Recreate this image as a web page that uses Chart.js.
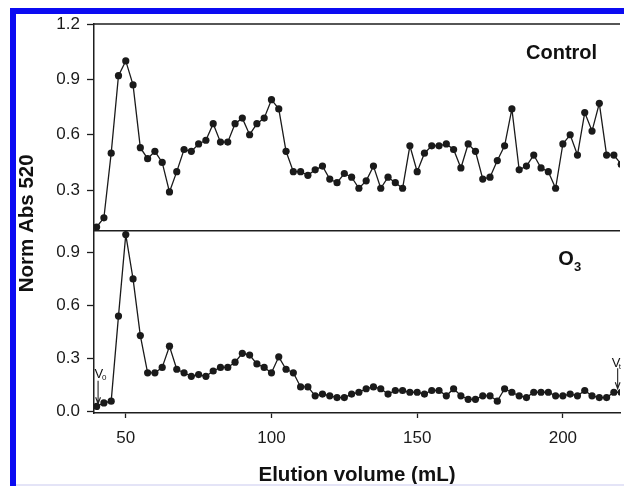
<!DOCTYPE html>
<html>
<head>
<meta charset="utf-8">
<script src="https://cdn.jsdelivr.net/npm/chart.js@4.4.1/dist/chart.umd.min.js"></script>
<style>
  html, body { margin: 0; padding: 0; background: #fff; }
  #wrap { position: relative; width: 624px; height: 486px; overflow: hidden; }
  #frame {
    position: absolute; left: 10px; top: 8px; width: 700px; height: 600px;
    border-top: 6px solid #0b0bf2; border-left: 6px solid #0b0bf2;
    pointer-events: none;
  }
  #edge { position: absolute; left: 16px; top: 484px; width: 620px; height: 2px; background: #e4e4f7; }
</style>
</head>
<body>
<div id="wrap">
  <canvas id="elution" width="624" height="486"></canvas>
  <div id="frame"></div>
  <div id="edge"></div>
</div>
<script>
// fraction volumes (mL)
const volumes = [
  40, 42.5, 45, 47.5, 50, 52.5, 55, 57.5, 60, 62.5,
  65, 67.5, 70, 72.5, 75, 77.5, 80, 82.5, 85, 87.5,
  90, 92.5, 95, 97.5, 100, 102.5, 105, 107.5, 110, 112.5,
  115, 117.5, 120, 122.5, 125, 127.5, 130, 132.5, 135, 137.5,
  140, 142.5, 145, 147.5, 150, 152.5, 155, 157.5, 160, 162.5,
  165, 167.5, 170, 172.5, 175, 177.5, 180, 182.5, 185, 187.5,
  190, 192.5, 195, 197.5, 200, 202.5, 205, 207.5, 210, 212.5,
  215, 217.5, 220
]

// normalised absorbance at 520 nm
const controlAbs = [
  0.10, 0.15, 0.50, 0.92, 1.00, 0.87, 0.53, 0.47, 0.51, 0.45,
  0.29, 0.40, 0.52, 0.51, 0.55, 0.57, 0.66, 0.56, 0.56, 0.66,
  0.69, 0.60, 0.66, 0.69, 0.79, 0.74, 0.51, 0.40, 0.40, 0.38,
  0.41, 0.43, 0.36, 0.34, 0.39, 0.37, 0.31, 0.35, 0.43, 0.31,
  0.37, 0.34, 0.31, 0.54, 0.40, 0.50, 0.54, 0.54, 0.55, 0.52,
  0.42, 0.55, 0.51, 0.36, 0.37, 0.46, 0.54, 0.74, 0.41, 0.43,
  0.49, 0.42, 0.40, 0.31, 0.55, 0.60, 0.49, 0.72, 0.62, 0.77,
  0.49, 0.49, 0.44
]

const ozoneAbs = [
  0.03, 0.05, 0.06, 0.54, 1.00, 0.75, 0.43, 0.22, 0.22, 0.25,
  0.37, 0.24, 0.22, 0.20, 0.21, 0.20, 0.23, 0.25, 0.25, 0.28,
  0.33, 0.32, 0.27, 0.25, 0.22, 0.31, 0.24, 0.22, 0.14, 0.14,
  0.09, 0.10, 0.09, 0.08, 0.08, 0.10, 0.11, 0.13, 0.14, 0.13,
  0.10, 0.12, 0.12, 0.11, 0.11, 0.10, 0.12, 0.12, 0.09, 0.13,
  0.09, 0.07, 0.07, 0.09, 0.09, 0.06, 0.13, 0.11, 0.09, 0.08,
  0.11, 0.11, 0.11, 0.09, 0.09, 0.10, 0.09, 0.12, 0.09, 0.08,
  0.08, 0.11, 0.11
]

const xTicks = [50, 100, 150, 200]
const topTicks = [0.3, 0.6, 0.9, 1.2]
const bottomTicks = [0.0, 0.3, 0.6, 0.9]

const ink = '#1e1e1e'
const family = "'Liberation Sans', Arial, Helvetica, sans-serif"

function points(values) {
  return values.map((v, i) => ({ x: volumes[i], y: v }))
}

function yAxis(min, max, weight, tickList) {
  return {
    type: 'linear',
    position: 'left',
    stack: 'abs',
    stackWeight: weight,
    min: min,
    max: max,
    afterBuildTicks: (s) => { s.ticks = tickList.map((v) => ({ value: v })) },
    afterFit: (s) => {
      s.width = 94
      s.paddingTop = 0
      s.paddingBottom = 0
    },
    border: { color: ink, width: 1.5 },
    grid: { drawOnChartArea: false, tickLength: 7, color: ink, tickWidth: 1.3 },
    ticks: {
      font: { family, size: 17 },
      color: '#1a1a1a',
      padding: 7,
      callback: (v) => v.toFixed(1)
    }
  }
}

// frame lines of the two panels + text labels
const panelDecor = {
  id: 'panelDecor',
  beforeDatasetsDraw(chart) {
    const { ctx, chartArea, scales } = chart
    ctx.save()
    ctx.strokeStyle = ink
    ctx.lineWidth = 1.5
    ;[scales.yTop.top, scales.yBot.top].forEach((y) => {
      ctx.beginPath()
      ctx.moveTo(chartArea.left, y)
      ctx.lineTo(chartArea.right, y)
      ctx.stroke()
    })
    ctx.restore()
  },
  afterDatasetsDraw(chart) {
    const { ctx, scales } = chart
    const x = scales.x
    const yb = scales.yBot
    ctx.save()
    ctx.fillStyle = '#111'
    ctx.textBaseline = 'alphabetic'

    // y title
    ctx.save()
    ctx.translate(33.3, 223.3)
    ctx.rotate(-Math.PI / 2)
    ctx.textAlign = 'center'
    ctx.font = 'bold 20.5px ' + family
    ctx.fillText('Norm Abs 520', 0, 0)
    ctx.restore()

    // panel names
    ctx.textAlign = 'left'
    ctx.font = 'bold 20px ' + family
    ctx.fillText('Control', 526, 59)
    ctx.fillText('O', 558.3, 265)
    ctx.font = 'bold 13px ' + family
    ctx.fillText('3', 574, 271)

    // V0 / Vt markers
    const arrow = (px, y0, y1) => {
      ctx.strokeStyle = '#222'
      ctx.lineWidth = 1.1
      ctx.beginPath()
      ctx.moveTo(px, y0)
      ctx.lineTo(px, y1)
      ctx.moveTo(px - 2.4, y1 - 6.5)
      ctx.lineTo(px, y1)
      ctx.lineTo(px + 2.4, y1 - 6.5)
      ctx.stroke()
    }
    const v0 = x.getPixelForValue(40.5)
    arrow(v0, yb.getPixelForValue(0.175), yb.getPixelForValue(0.045))
    ctx.font = '13px ' + family
    ctx.fillText('V', v0 - 3.5, 378)
    ctx.font = '8px ' + family
    ctx.fillText('0', v0 + 3.8, 379.5)

    const vt = x.getPixelForValue(218.8)
    arrow(vt, yb.getPixelForValue(0.245), yb.getPixelForValue(0.13))
    ctx.font = '13px ' + family
    ctx.fillText('V', vt - 6, 367)
    ctx.font = '8px ' + family
    ctx.fillText('t', vt + 1.2, 368.5)
    ctx.restore()
  }
}

const lineStyle = {
  borderColor: '#1a1a1a',
  borderWidth: 1.3,
  pointRadius: 3.6,
  pointBorderWidth: 0,
  pointBackgroundColor: '#1a1a1a',
  tension: 0
}

new Chart(document.getElementById('elution'), {
  type: 'line',
  data: {
    datasets: [
      { label: 'Control', data: points(controlAbs), yAxisID: 'yTop', ...lineStyle },
      { label: 'O3', data: points(ozoneAbs), yAxisID: 'yBot', ...lineStyle }
    ]
  },
  options: {
    responsive: false,
    devicePixelRatio: 1,
    animation: false,
    events: [],
    layout: { padding: { top: 24, left: 0, right: 0, bottom: 0 } },
    scales: {
      x: {
        type: 'linear',
        position: 'bottom',
        min: 39.1,
        max: 219.6,
        afterBuildTicks: (s) => { s.ticks = xTicks.map((v) => ({ value: v })) },
        afterFit: (s) => {
          s.height = 73
          s.paddingLeft = 0
          s.paddingRight = 0
        },
        border: { color: ink, width: 1.5 },
        grid: { drawOnChartArea: false, tickLength: 5, color: ink, tickWidth: 1.3 },
        ticks: {
          font: { family, size: 17 },
          color: '#1a1a1a',
          padding: 10,
          autoSkip: false,
          maxRotation: 0,
          callback: (v) => String(v)
        },
        title: {
          display: true,
          text: 'Elution volume (mL)',
          color: '#111',
          font: { family, size: 20.5, weight: 'bold', lineHeight: 1 },
          padding: 0
        }
      },
      // the stack is filled from the bottom up, so the lower panel comes first
      yBot: yAxis(-0.007, 1.022, 182.3, bottomTicks),
      yTop: yAxis(0.08, 1.2, 206.7, topTicks)
    },
    plugins: {
      legend: { display: false },
      tooltip: { enabled: false }
    }
  },
  plugins: [panelDecor]
})
</script>
</body>
</html>
